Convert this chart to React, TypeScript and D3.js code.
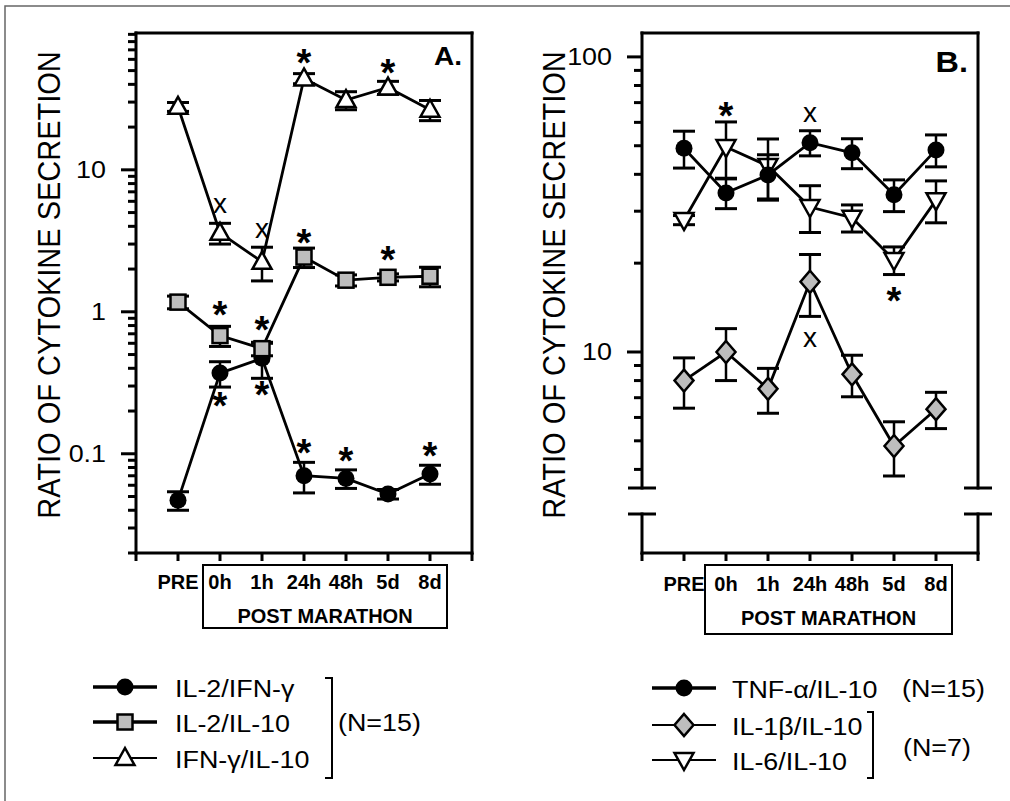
import React from "react";
import * as d3 from "d3";

// time points (x categories)
const times = ["PRE", "0h", "1h", "24h", "48h", "5d", "8d"];

// panel A, N=15
const il2Ifng = [0.047, 0.37, 0.47, 0.07, 0.067, 0.052, 0.072];
const il2IfngErr = [0.007, 0.075, 0.13, 0.017, 0.01, 0.004, 0.011];
const il2Il10 = [1.17, 0.68, 0.55, 2.43, 1.67, 1.75, 1.78];
const il2Il10Err = [0.12, 0.11, 0.06, 0.38, 0.15, 0.1, 0.28];
const ifngIl10 = [27.8, 3.6, 2.25, 44, 31, 38, 26.5];
const ifngIl10Err = [2, 0.6, 0.6, 3.6, 4.5, 4, 4.3];

// panel B
const tnfIl10 = [49, 34.6, 39.8, 51.2, 47.3, 34.1, 48.4];
const tnfIl10Err = [7, 4, 6.8, 5, 5.5, 4.2, 6];
const il1bIl10 = [8.0, 10, 7.5, 17.3, 8.4, 4.8, 6.4];
const il1bIl10Err = [1.55, 2, 1.3, 4.1, 1.35, 1.0, 0.9];
const il6Il10 = [28, 49.5, 42.7, 31, 28.5, 20.5, 32.7];
const il6Il10Err = [1, 10.7, 10, 5.6, 3, 2.2, 5.3];

// significance marks: [time index, value, symbol]
const notesA: [number, number, string][] = [
  [3, 64, "*"], [5, 55, "*"], [1, 5.6, "x"], [2, 3.7, "x"],
  [1, 1.08, "*"], [2, 0.85, "*"], [3, 3.5, "*"], [5, 2.64, "*"],
  [1, 0.247, "*"], [2, 0.295, "*"], [3, 0.115, "*"], [4, 0.101, "*"], [6, 0.11, "*"],
];
const notesB: [number, number, string][] = [
  [1, 67, "*"], [3, 63.6, "x"], [5, 15.8, "*"], [3, 11, "x"],
];

const FONT = "'Liberation Sans', Arial, Helvetica, sans-serif";
const GREY = "#bdbdbd";

type Shape = "circle" | "square" | "triUp" | "triDown" | "diamond";

function Marker({ shape, x, y }: { shape: Shape; x: number; y: number }) {
  const t = `translate(${x},${y})`;
  if (shape === "circle") return <circle cx={x} cy={y} r={8.5} fill="#000" />;
  if (shape === "square")
    return <rect x={x - 7.5} y={y - 7.5} width={15} height={15} fill={GREY} stroke="#000" strokeWidth={2.5} />;
  if (shape === "triUp")
    return <path transform={t} d="M0,-10L9.5,7L-9.5,7Z" fill="#fff" stroke="#000" strokeWidth={2.5} strokeLinejoin="miter" />;
  if (shape === "triDown")
    return <path transform={t} d="M0,10L9.5,-7L-9.5,-7Z" fill="#fff" stroke="#000" strokeWidth={2.5} />;
  return <path transform={t} d="M0,-11L9.5,0L0,11L-9.5,0Z" fill={GREY} stroke="#000" strokeWidth={2.5} />;
}

function Txt(props: { x: number; y: number; size: number; anchor?: string; weight?: string; sx?: number; children: any }) {
  const { x, y, size, anchor = "start", weight = "normal", sx = 1.12 } = props;
  return (
    <text transform={`translate(${x},${y}) scale(${sx},1)`} fontSize={size} textAnchor={anchor} fontWeight={weight}>
      {props.children}
    </text>
  );
}

type Series = { name: string; values: number[]; errors: number[]; shape: Shape; legendW: number };

const seriesA: Series[] = [
  { name: "IL-2/IFN-γ", values: il2Ifng, errors: il2IfngErr, shape: "circle", legendW: 3.3 },
  { name: "IL-2/IL-10", values: il2Il10, errors: il2Il10Err, shape: "square", legendW: 3.3 },
  { name: "IFN-γ/IL-10", values: ifngIl10, errors: ifngIl10Err, shape: "triUp", legendW: 2 },
];
const seriesB: Series[] = [
  { name: "IL-6/IL-10", values: il6Il10, errors: il6Il10Err, shape: "triDown", legendW: 2 },
  { name: "IL-1β/IL-10", values: il1bIl10, errors: il1bIl10Err, shape: "diamond", legendW: 2 },
  { name: "TNF-α/IL-10", values: tnfIl10, errors: tnfIl10Err, shape: "circle", legendW: 3.3 },
];

type PanelCfg = {
  left: number; right: number; top: number; bottom: number;
  yDomain: [number, number]; yBase: number; breakLow?: number;
  series: Series[]; notes: [number, number, string][];
  letter: string; letterSize: number; letterBase: number;
  titleX: number; box: [number, number, number, number]; tickBase: number; postBase: number;
};

function Panel({ p }: { p: PanelCfg }) {
  const x = d3.scalePoint<string>().domain(times).range([p.left, p.right]).padding(1);
  const y = d3.scaleLog().domain(p.yDomain).range([p.yBase, p.top]);
  const ticks = y.ticks().filter((t) => t >= p.yDomain[0] - 1e-9 && t <= p.yDomain[1]);
  const isMajor = (t: number) => Math.abs(Math.log10(t) - Math.round(Math.log10(t))) < 1e-9;
  const line = d3.line<number>().x((_, i) => x(times[i])!).y((v) => y(v));
  const xTicks = [p.left, ...times.map((t) => x(t)!), p.right];
  const st = { stroke: "#000", strokeWidth: 3, strokeLinecap: "square" as const };

  const vAxis = (ax: number) =>
    p.breakLow ? (
      <g>
        <line x1={ax} x2={ax} y1={p.top} y2={p.yBase} {...st} />
        <line x1={ax} x2={ax} y1={p.breakLow} y2={p.bottom} {...st} />
        <line x1={ax - 14} x2={ax + 14} y1={p.yBase} y2={p.yBase} stroke="#000" strokeWidth={3} />
        <line x1={ax - 14} x2={ax + 14} y1={p.breakLow} y2={p.breakLow} stroke="#000" strokeWidth={3} />
      </g>
    ) : (
      <line x1={ax} x2={ax} y1={p.top} y2={p.bottom} {...st} />
    );

  return (
    <g>
      {/* frame */}
      <line x1={p.left} x2={p.right} y1={p.top} y2={p.top} {...st} />
      <line x1={p.left} x2={p.right} y1={p.bottom} y2={p.bottom} {...st} />
      {vAxis(p.left)}
      {vAxis(p.right)}
      {ticks.map((t) => (
        <line key={t} x1={p.left - (isMajor(t) ? 15 : 8)} x2={p.left} y1={y(t)} y2={y(t)} stroke="#000" strokeWidth={3} />
      ))}
      {ticks.filter(isMajor).map((t) => (
        <Txt key={t} x={p.left - 30} y={y(t) + 8.5} size={24} anchor="end">
          {d3.format("~g")(t)}
        </Txt>
      ))}
      {xTicks.map((tx, i) => (
        <line key={i} x1={tx} x2={tx} y1={p.bottom} y2={p.bottom + 8} stroke="#000" strokeWidth={3} />
      ))}
      {times.map((t) => (
        <text key={t} x={x(t)!} y={p.tickBase} fontSize={20} fontWeight="bold" textAnchor="middle">
          {t}
        </text>
      ))}
      <rect x={p.box[0]} y={p.box[1]} width={p.box[2] - p.box[0]} height={p.box[3] - p.box[1]} fill="none" stroke="#000" strokeWidth={2} />
      <text x={(p.box[0] + p.box[2]) / 2} y={p.postBase} fontSize={20} fontWeight="bold" textAnchor="middle">
        POST MARATHON
      </text>
      <text transform={`translate(${p.titleX},285) scale(1.1,1) rotate(-90)`} fontSize={29} textAnchor="middle">
        RATIO OF CYTOKINE SECRETION
      </text>
      <Txt x={p.right - 10} y={p.letterBase} size={p.letterSize} anchor="end" weight="bold" sx={1.08}>
        {p.letter}
      </Txt>

      {/* data */}
      {p.series.map((s) => (
        <g key={s.name}>
          <path d={line(s.values)!} fill="none" stroke="#000" strokeWidth={2.8} />
          {s.values.map((v, i) => {
            const cx = x(times[i])!;
            const hi = y(v + s.errors[i]);
            const lo = y(v - s.errors[i]);
            return (
              <g key={i} stroke="#000">
                <line x1={cx} x2={cx} y1={hi} y2={lo} strokeWidth={2.5} />
                <line x1={cx - 11} x2={cx + 11} y1={hi} y2={hi} strokeWidth={3} />
                <line x1={cx - 11} x2={cx + 11} y1={lo} y2={lo} strokeWidth={3} />
              </g>
            );
          })}
          {s.values.map((v, i) => (
            <Marker key={i} shape={s.shape} x={x(times[i])!} y={y(v)} />
          ))}
        </g>
      ))}
      {p.notes.map(([i, v, sym], k) =>
        sym === "*" ? (
          <text key={k} x={x(times[i])!} y={y(v) + 21} fontSize={38} fontWeight="bold" textAnchor="middle">*</text>
        ) : (
          <text key={k} x={x(times[i])!} y={y(v) + 7.3} fontSize={28} textAnchor="middle">x</text>
        )
      )}
    </g>
  );
}

const panelA: PanelCfg = {
  left: 136, right: 472, top: 33, bottom: 553,
  yDomain: [0.02, 92], yBase: 553,
  series: seriesA, notes: notesA,
  letter: "A.", letterSize: 26, letterBase: 65,
  titleX: 60, box: [203, 565, 447, 628], tickBase: 589, postBase: 623,
};
const panelB: PanelCfg = {
  left: 642, right: 978, top: 33, bottom: 553,
  yDomain: [3.46, 120.5], yBase: 488, breakLow: 514,
  series: seriesB, notes: notesB,
  letter: "B.", letterSize: 30, letterBase: 72,
  titleX: 565, box: [705, 565, 952, 634], tickBase: 591, postBase: 625,
};

function LegendRow({ s, x0, x1, y, tx }: { s: Series; x0: number; x1: number; y: number; tx: number }) {
  return (
    <g>
      <line x1={x0} x2={x1} y1={y} y2={y} stroke="#000" strokeWidth={s.legendW} />
      <Marker shape={s.shape} x={(x0 + x1) / 2} y={y} />
      <Txt x={tx} y={y + 9.5} size={24}>{s.name}</Txt>
    </g>
  );
}

export default function App() {
  const legA = [seriesA[0], seriesA[1], seriesA[2]];
  const rowsA = [687, 722, 758];
  const legB = [seriesB[2], seriesB[1], seriesB[0]];
  const rowsB = [688, 725, 760];
  return (
    <svg width={1010} height={801} style={{ position: "absolute", left: 0, top: 0, background: "#fff" }} fontFamily={FONT}>
      <rect x={5} y={6} width={1100} height={900} fill="none" stroke="#666" strokeWidth={1.5} />
      <Panel p={panelA} />
      <Panel p={panelB} />

      {legA.map((s, i) => (
        <LegendRow key={s.name} s={s} x0={93} x1={157} y={rowsA[i]} tx={175} />
      ))}
      <path d="M325,678H332V778H325" fill="none" stroke="#000" strokeWidth={2} />
      <Txt x={338} y={730.5} size={24}>(N=15)</Txt>

      {legB.map((s, i) => (
        <LegendRow key={s.name} s={s} x0={652} x1={716} y={rowsB[i]} tx={732} />
      ))}
      <Txt x={902} y={696.5} size={24}>(N=15)</Txt>
      <path d="M867,712H873V778H867" fill="none" stroke="#000" strokeWidth={2} />
      <Txt x={903} y={755.5} size={24}>(N=7)</Txt>
    </svg>
  );
}
